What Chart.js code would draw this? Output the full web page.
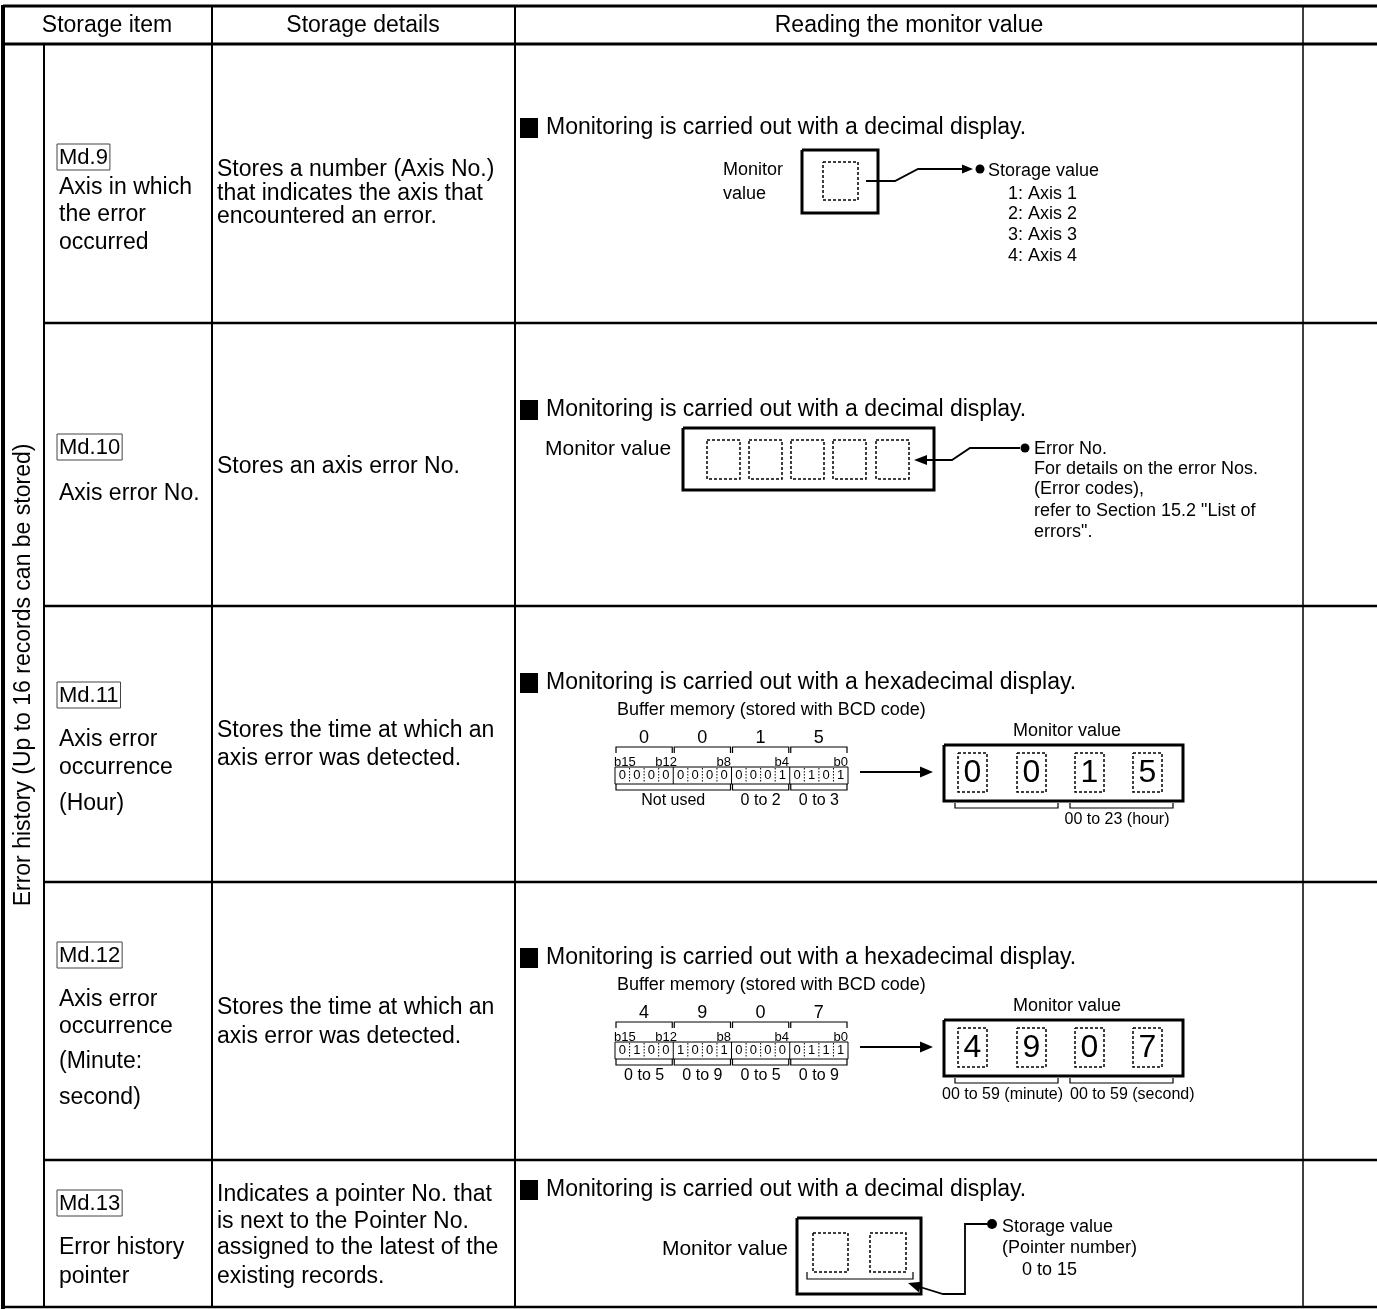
<!DOCTYPE html>
<html>
<head>
<meta charset="utf-8">
<script src="https://cdn.jsdelivr.net/npm/chart.js@4.4.1/dist/chart.umd.min.js"></script>
<style>
  html, body { margin: 0; padding: 0; background: #fff; }
  canvas { display: block; }
</style>
</head>
<body>
<canvas id="sheet" width="1377" height="1309"></canvas>
<script>
// table text
const headers = ['Storage item', 'Storage details', 'Reading the monitor value'];
const groupLabel = 'Error history (Up to 16 records can be stored)';
const itemCodes = ['Md.9', 'Md.10', 'Md.11', 'Md.12', 'Md.13'];
const itemNames = [
  ['Axis in which', 'the error', 'occurred'],
  ['Axis error No.'],
  ['Axis error', 'occurrence', '(Hour)'],
  ['Axis error', 'occurrence', '(Minute:', 'second)'],
  ['Error history', 'pointer']
];
const itemDetails = [
  ['Stores a number (Axis No.)', 'that indicates the axis that', 'encountered an error.'],
  ['Stores an axis error No.'],
  ['Stores the time at which an', 'axis error was detected.'],
  ['Stores the time at which an', 'axis error was detected.'],
  ['Indicates a pointer No. that', 'is next to the Pointer No.', 'assigned to the latest of the', 'existing records.']
];
const displayNotes = [
  'Monitoring is carried out with a decimal display.',
  'Monitoring is carried out with a decimal display.',
  'Monitoring is carried out with a hexadecimal display.',
  'Monitoring is carried out with a hexadecimal display.',
  'Monitoring is carried out with a decimal display.'
];

// monitor value diagrams
const axisValues = ['Storage value', '1: Axis 1', '2: Axis 2', '3: Axis 3', '4: Axis 4'];
const errorNoNotes = ['Error No.', 'For details on the error Nos.', '(Error codes),', 'refer to Section 15.2 "List of', 'errors".'];
const bufferTitle = 'Buffer memory (stored with BCD code)';
const bitLabels = ['b15', 'b12', 'b8', 'b4', 'b0'];
const hourDigits = [0, 0, 1, 5];
const hourRanges = ['Not used', '0 to 2', '0 to 3'];
const hourRangeSpans = [2, 1, 1];
const hourMonitorRanges = ['', '00 to 23 (hour)'];
const minSecDigits = [4, 9, 0, 7];
const minSecRanges = ['0 to 5', '0 to 9', '0 to 5', '0 to 9'];
const minSecRangeSpans = [1, 1, 1, 1];
const minSecMonitorRanges = ['00 to 59 (minute)', '00 to 59 (second)'];
const pointerNotes = ['Storage value', '(Pointer number)', '0 to 15'];

const FONT = '"Liberation Sans", Arial, sans-serif';

// row positions (y of code box, name lines, detail lines, bullet note)
const rows = [
  { code: 157,  names: [188, 215, 243],          details: [170, 194, 217],          note: 128 },
  { code: 447,  names: [494],                    details: [467],                    note: 410 },
  { code: 695,  names: [740, 768, 804],          details: [731, 759],               note: 683 },
  { code: 955,  names: [1000, 1027, 1062, 1098], details: [1008, 1037],             note: 958 },
  { code: 1203, names: [1248, 1277],             details: [1195, 1222, 1248, 1277], note: 1190 }
];

const tablePlugin = {
  id: 'tablePlugin',
  afterDraw(chart) {
    const ctx = chart.ctx;
    const xs = chart.scales.x, ys = chart.scales.y;
    const X = v => xs.getPixelForValue(v);
    const Y = v => ys.getPixelForValue(v);

    ctx.save();
    ctx.fillStyle = '#000';
    ctx.strokeStyle = '#000';
    ctx.lineCap = 'butt';

    const path = (pts, w, dash) => {
      ctx.beginPath();
      pts.forEach(([x, y], i) => i ? ctx.lineTo(X(x), Y(y)) : ctx.moveTo(X(x), Y(y)));
      ctx.lineWidth = w;
      ctx.setLineDash(dash || []);
      ctx.stroke();
      ctx.setLineDash([]);
    };
    const rect = (x0, y0, x1, y1, w, dash) =>
      path([[x0, y0], [x1, y0], [x1, y1], [x0, y1], [x0, y0]], w, dash);
    const text = (s, x, y, size, align) => {
      ctx.font = size + 'px ' + FONT;
      ctx.textAlign = align || 'left';
      ctx.textBaseline = 'middle';
      ctx.fillText(s, X(x), Y(y));
    };
    const arrow = (tx, ty, fx, fy, len, half) => {
      const a = Math.atan2(Y(ty) - Y(fy), X(tx) - X(fx));
      const px = X(tx), py = Y(ty);
      ctx.beginPath();
      ctx.moveTo(px, py);
      ctx.lineTo(px - len * Math.cos(a) + half * Math.sin(a), py - len * Math.sin(a) - half * Math.cos(a));
      ctx.lineTo(px - len * Math.cos(a) - half * Math.sin(a), py - len * Math.sin(a) + half * Math.cos(a));
      ctx.closePath();
      ctx.fill();
    };
    const dot = (x, y, r) => {
      ctx.beginPath();
      ctx.arc(X(x), Y(y), r, 0, Math.PI * 2);
      ctx.fill();
    };

    // grid
    path([[3, 6], [1377, 6]], 3);
    path([[3, 44], [1377, 44]], 3);
    [323, 606, 882, 1160].forEach(y => path([[44, y], [1377, y]], 2.5));
    path([[3, 1307], [1377, 1307]], 2.5);
    path([[3, 5], [3, 1309]], 4);
    path([[44, 44], [44, 1307]], 2);
    path([[212, 6], [212, 1307]], 2);
    path([[515, 6], [515, 1307]], 2);
    path([[1303, 6], [1303, 1307]], 1.5);

    // header
    text(headers[0], 107, 26, 23, 'center');
    text(headers[1], 363, 26, 23, 'center');
    text(headers[2], 909, 26, 23, 'center');

    // group label, rotated
    ctx.save();
    ctx.translate(X(24), Y(675));
    ctx.rotate(-Math.PI / 2);
    ctx.font = '23px ' + FONT;
    ctx.textAlign = 'center';
    ctx.textBaseline = 'middle';
    ctx.fillText(groupLabel, 0, 0);
    ctx.restore();

    // item rows
    rows.forEach((r, i) => {
      ctx.font = '22px ' + FONT;
      const w = ctx.measureText(itemCodes[i]).width;
      text(itemCodes[i], 59, r.code + 1, 22);
      ctx.strokeStyle = '#444';
      rect(57, r.code - 13, 57 + w + 4, r.code + 13, 1);
      ctx.strokeStyle = '#000';
      itemNames[i].forEach((s, k) => text(s, 59, r.names[k], 23));
      itemDetails[i].forEach((s, k) => text(s, 217, r.details[k], 23));
      ctx.fillRect(X(520), Y(r.note - 10), X(538) - X(520), Y(r.note + 10) - Y(r.note - 10));
      text(displayNotes[i], 546, r.note, 23);
    });

    // row 1: axis number
    text('Monitor', 723, 170, 18);
    text('value', 723, 194, 18);
    rect(802, 150, 878, 213, 3);
    rect(823, 162, 858, 200, 1.5, [3, 2]);
    path([[866, 181], [895, 181], [918, 169], [966, 169]], 1.8);
    arrow(973, 169, 960, 169, 11, 4.5);
    dot(980, 169, 4.5);
    [171, 194, 214, 235, 256].forEach((y, k) =>
      text(axisValues[k], k === 0 ? 988 : 1008, y, 18));

    // row 2: error number
    text('Monitor value', 545, 449, 21);
    rect(683, 428, 934, 490, 3);
    [707, 749, 791, 833, 876].forEach(x => rect(x, 440, x + 33, 479, 1.5, [3, 2]));
    arrow(914, 460, 930, 460, 13, 5);
    path([[924, 460], [952, 460], [970, 448], [1020, 448]], 1.8);
    dot(1025, 448, 4.5);
    [449, 469, 489, 511, 532].forEach((y, k) => text(errorNoNotes[k], 1034, y, 18));

    // rows 3 and 4: BCD buffer memory
    const bcd = (base, digits, ranges, spans, monRanges) => {
      const x0 = 615, nw = 58.25, cw = nw / 4;
      text(bufferTitle, 617, base + 27, 18);
      digits.forEach((d, n) => {
        const a = x0 + n * nw, b = a + nw;
        text(String(d), (a + b) / 2, base + 55, 18, 'center');
        path([[a + 1, base + 70], [a + 1, base + 64], [b - 1, base + 64], [b - 1, base + 70]], 1.2);
        const bits = d.toString(2).padStart(4, '0');
        for (let k = 0; k < 4; k++) {
          text(bits[k], a + cw * (k + 0.5), base + 92.5, 13, 'center');
          if (k > 0) path([[a + cw * k, base + 85], [a + cw * k, base + 100]], 1, [1.5, 1.5]);
        }
      });
      rect(x0, base + 84, x0 + 4 * nw, base + 101, 1);
      for (let n = 1; n < 4; n++) path([[x0 + n * nw, base + 84], [x0 + n * nw, base + 101]], 1);
      text(bitLabels[0], 614, base + 79, 13);
      text(bitLabels[1], 677, base + 79, 13, 'right');
      text(bitLabels[2], 731, base + 79, 13, 'right');
      text(bitLabels[3], 789, base + 79, 13, 'right');
      text(bitLabels[4], 848, base + 79, 13, 'right');
      let n0 = 0;
      ranges.forEach((s, k) => {
        const a = x0 + n0 * nw, b = a + spans[k] * nw;
        path([[a + 1, base + 101], [a + 1, base + 107], [b - 1, base + 107], [b - 1, base + 101]], 1.2);
        text(s, (a + b) / 2, base + 118, 16, 'center');
        n0 += spans[k];
      });
      path([[860, base + 89], [920, base + 89]], 1.8);
      arrow(933, base + 89, 920, base + 89, 13, 5.5);
      text('Monitor value', 1067, base + 48, 18, 'center');
      rect(944, base + 62, 1183, base + 118, 3);
      [958, 1017, 1075, 1133].forEach((x, k) => {
        rect(x, base + 70, x + 29, base + 109, 1.5, [3, 2]);
        text(String(digits[k]), x + 14.5, base + 90, 32, 'center');
      });
      [[955, 1058], [1070, 1173]].forEach(([a, b], k) => {
        path([[a, base + 120], [a, base + 125], [b, base + 125], [b, base + 120]], 1.2);
      });
      // range labels under the monitor box
      if (monRanges[0]) text(monRanges[0], 1063, base + 137, 16, 'right');
      if (monRanges[0]) text(monRanges[1], 1070, base + 137, 16, 'left');
      else text(monRanges[1], 1117, base + 137, 16, 'center');
    };
    bcd(rows[2].note, hourDigits, hourRanges, hourRangeSpans, hourMonitorRanges);
    bcd(rows[3].note, minSecDigits, minSecRanges, minSecRangeSpans, minSecMonitorRanges);

    // row 5: pointer
    text('Monitor value', 788, 1249, 21, 'right');
    rect(797, 1218, 921, 1294, 3);
    rect(813, 1233, 848, 1272, 1.5, [3, 2]);
    rect(870, 1233, 906, 1272, 1.5, [3, 2]);
    path([[807, 1272], [807, 1279], [913, 1279], [913, 1272]], 1.2);
    path([[920, 1287], [943, 1294], [965, 1294], [965, 1224], [987, 1224]], 1.8);
    arrow(908, 1283, 943, 1294, 13, 5.5);
    dot(992, 1224, 5);
    text(pointerNotes[0], 1002, 1227, 18);
    text(pointerNotes[1], 1002, 1248, 18);
    text(pointerNotes[2], 1022, 1270, 18);

    ctx.restore();
  }
};

new Chart(document.getElementById('sheet').getContext('2d'), {
  type: 'scatter',
  data: { datasets: [{ data: [], pointRadius: 0 }] },
  options: {
    responsive: false,
    animation: false,
    devicePixelRatio: 1,
    events: [],
    layout: { padding: 0 },
    plugins: { legend: { display: false }, tooltip: { enabled: false } },
    scales: {
      x: { type: 'linear', min: 0, max: 1377, display: false },
      y: { type: 'linear', min: 0, max: 1309, reverse: true, display: false }
    }
  },
  plugins: [tablePlugin]
});
</script>
</body>
</html>
